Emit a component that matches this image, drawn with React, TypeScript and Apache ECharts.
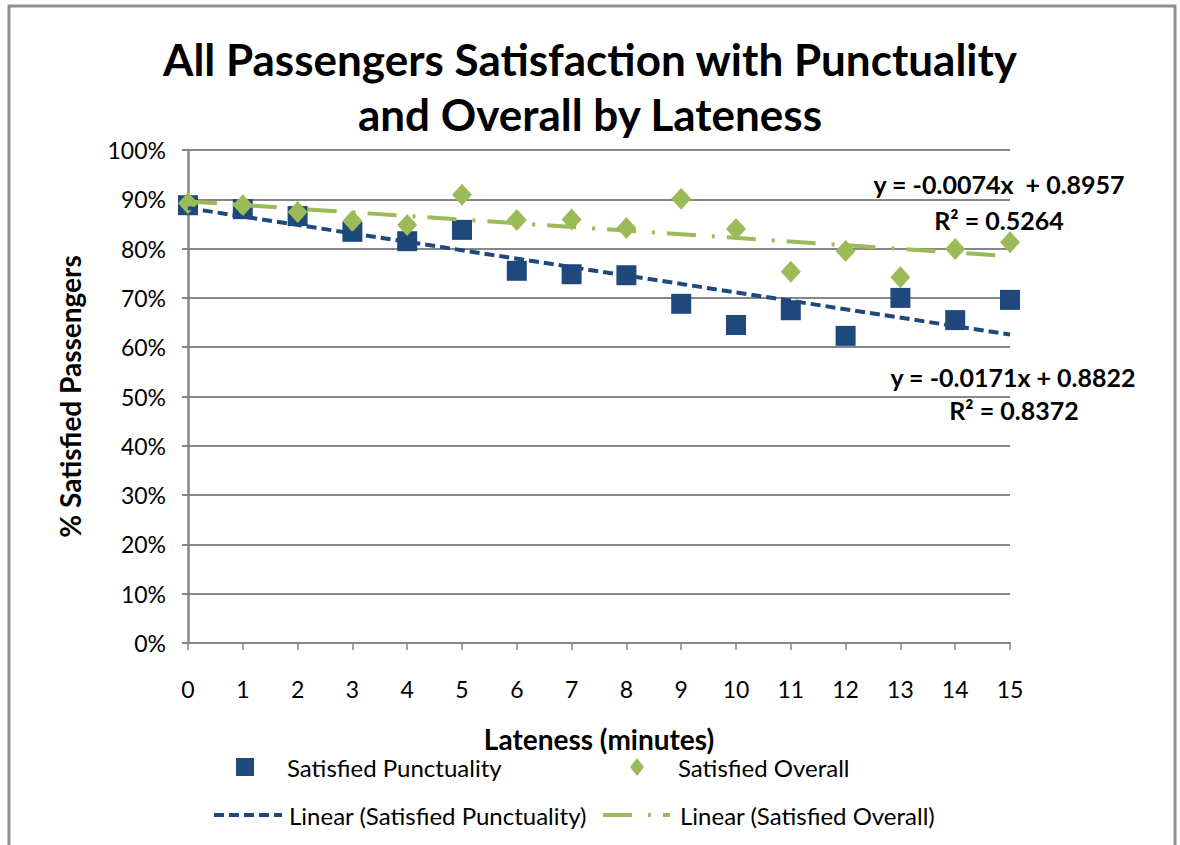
import React, { useEffect, useRef } from "react";
import * as echarts from "echarts";

const lateness = [0, 1, 2, 3, 4, 5, 6, 7, 8, 9, 10, 11, 12, 13, 14, 15];
const satisfiedPunctuality = [0.888, 0.88, 0.866, 0.834, 0.815, 0.838, 0.755, 0.748, 0.746, 0.688, 0.645, 0.675, 0.623, 0.7, 0.655, 0.696];
const satisfiedOverall = [0.892, 0.888, 0.874, 0.856, 0.848, 0.909, 0.858, 0.859, 0.842, 0.901, 0.84, 0.753, 0.795, 0.742, 0.799, 0.813];
const trendSlopes = [-0.0171, -0.0074];
const trendIntercepts = [0.8822, 0.8957];
const trendLabels = [
  ["y = -0.0171x + 0.8822", "R² = 0.8372"],
  ["y = -0.0074x  + 0.8957", "R² = 0.5264"],
];
const seriesNames = [
  "Satisfied Punctuality",
  "Satisfied Overall",
  "Linear (Satisfied Punctuality)",
  "Linear (Satisfied Overall)",
];

const BLUE = "#1F497D";
const GREEN = "#9BBB59";
const GRID = "#878787";
const FONT = "Lato";
const BLUE_DASH = [10, 5];
const GREEN_DASH = [29, 16, 3, 12];

export default function App() {
  const ref = useRef<HTMLDivElement>(null);
  useEffect(() => {
    if (!ref.current) return;
    const chart = echarts.init(ref.current, null, { renderer: "svg" });
    const xMin = lateness[0];
    const xMax = lateness[lateness.length - 1];
    const trend = (i: number) => [
      [xMin, trendIntercepts[i] + trendSlopes[i] * xMin],
      [xMax, trendIntercepts[i] + trendSlopes[i] * xMax],
    ];
    const legendText = (pad: number) => ({
      fontFamily: FONT,
      fontSize: 24,
      color: "#000",
      padding: [0, 0, 0, pad],
    });
    const eqStyle = (text: string) => ({
      text,
      fontFamily: FONT,
      fontWeight: "bold",
      fontSize: 25,
      fill: "#000",
      textAlign: "center",
      textVerticalAlign: "middle",
    });
    chart.setOption({
      animation: false,
      backgroundColor: "#fff",
      title: {
        text: "All Passengers Satisfaction with Punctuality\nand Overall by Lateness",
        left: "center",
        top: 31,
        padding: 0,
        textStyle: {
          fontFamily: FONT,
          fontWeight: "bold",
          fontSize: 44,
          lineHeight: 55,
          color: "#000",
        },
      },
      grid: { left: 188, top: 150, right: 170, bottom: 202 },
      xAxis: {
        type: "value",
        min: 0,
        max: 15,
        interval: 1,
        name: "Lateness (minutes)",
        nameLocation: "middle",
        nameGap: 82,
        nameTextStyle: { fontFamily: FONT, fontWeight: "bold", fontSize: 28, color: "#000" },
        axisLine: { lineStyle: { color: GRID, width: 2 } },
        axisTick: { show: true, length: 7, lineStyle: { color: GRID, width: 1.5 } },
        axisLabel: { margin: 34, fontFamily: FONT, fontSize: 23, color: "#000" },
        splitLine: { show: false },
      },
      yAxis: {
        type: "value",
        min: 0,
        max: 1,
        interval: 0.1,
        name: "% Satisfied Passengers",
        nameLocation: "middle",
        nameGap: 104,
        nameRotate: 90,
        nameTextStyle: { fontFamily: FONT, fontWeight: "bold", fontSize: 28, color: "#000" },
        axisLine: { show: true, lineStyle: { color: GRID, width: 2.5 } },
        axisTick: { show: true, length: 6, lineStyle: { color: GRID, width: 2 } },
        axisLabel: {
          margin: 22,
          fontFamily: FONT,
          fontSize: 23,
          color: "#000",
          formatter: (v: number) => Math.round(v * 100) + "%",
        },
        splitLine: { show: true, lineStyle: { color: GRID, width: 2 } },
      },
      legend: [
        {
          left: 236, top: 755, padding: 0, itemWidth: 18, itemHeight: 18,
          data: [{ name: seriesNames[0], icon: "rect" }],
          textStyle: legendText(28),
        },
        {
          left: 630, top: 755, padding: 0, itemWidth: 14, itemHeight: 18,
          data: [{ name: seriesNames[1], icon: "diamond" }],
          textStyle: legendText(29),
        },
        {
          left: 212, top: 803, padding: 0, itemWidth: 68, itemHeight: 14,
          data: [seriesNames[2]],
          itemStyle: { opacity: 0 },
          lineStyle: { width: 4, type: BLUE_DASH, color: BLUE, opacity: 1 },
          textStyle: legendText(2),
        },
        {
          left: 601, top: 803, padding: 0, itemWidth: 67, itemHeight: 14,
          data: [seriesNames[3]],
          itemStyle: { opacity: 0 },
          lineStyle: { width: 4, type: GREEN_DASH, color: GREEN, opacity: 1 },
          textStyle: legendText(5),
        },
      ],
      series: [
        {
          name: seriesNames[0],
          type: "scatter",
          symbol: "rect",
          symbolSize: [20, 20],
          itemStyle: { color: BLUE, opacity: 1 },
          data: lateness.map((x, i) => [x, satisfiedPunctuality[i]]),
          z: 2,
        },
        {
          name: seriesNames[1],
          type: "scatter",
          symbol: "diamond",
          symbolSize: [20, 22],
          itemStyle: { color: GREEN, opacity: 1 },
          data: lateness.map((x, i) => [x, satisfiedOverall[i]]),
          z: 2,
        },
        {
          name: seriesNames[2],
          type: "line",
          symbol: "none",
          itemStyle: { color: BLUE },
          lineStyle: { color: BLUE, width: 4, type: BLUE_DASH },
          data: trend(0),
          z: 3,
        },
        {
          name: seriesNames[3],
          type: "line",
          symbol: "none",
          itemStyle: { color: GREEN },
          lineStyle: { color: GREEN, width: 4, type: GREEN_DASH },
          data: trend(1),
          z: 3,
        },
      ],
      graphic: [
        {
          type: "rect",
          silent: true,
          shape: { x: 9, y: 6, width: 1166, height: 900 },
          style: { fill: "none", stroke: "#8f8f8f", lineWidth: 3 },
          z: 100,
        },
        { type: "text", x: 999, y: 184, style: eqStyle(trendLabels[1][0]) },
        { type: "text", x: 999, y: 220, style: eqStyle(trendLabels[1][1]) },
        { type: "text", x: 1013, y: 377, style: eqStyle(trendLabels[0][0]) },
        { type: "text", x: 1014, y: 410, style: eqStyle(trendLabels[0][1]) },
      ],
    });
    return () => chart.dispose();
  }, []);
  return (
    <div
      ref={ref}
      style={{ position: "absolute", left: 0, top: 0, width: 1180, height: 845 }}
    />
  );
}
